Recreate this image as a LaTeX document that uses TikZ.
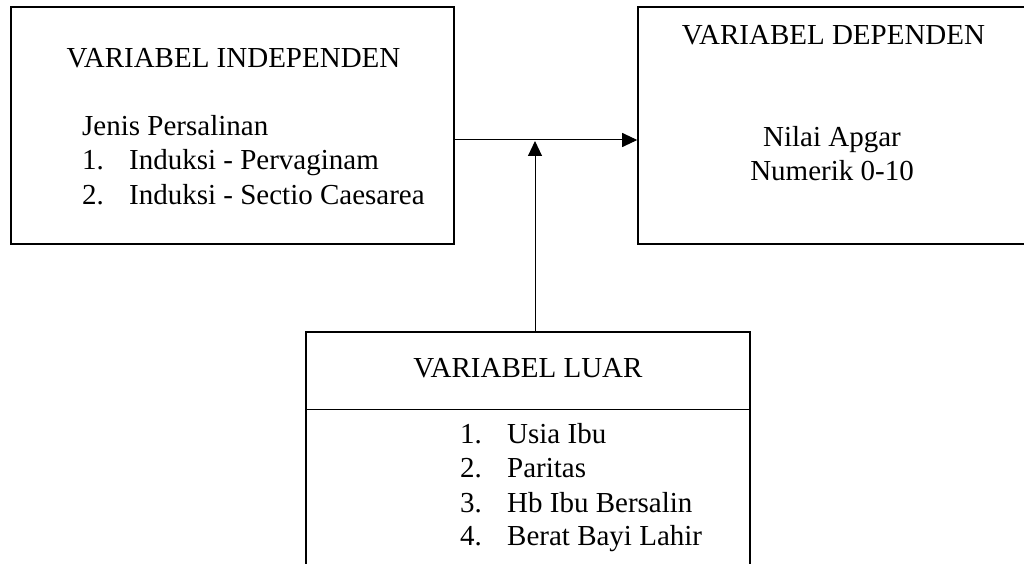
\documentclass[tikz,border=0pt]{standalone}
\usepackage{fontspec}
\setmainfont{Liberation Serif}
\usepackage{tikz}
\usetikzlibrary{arrows.meta}
\tikzstyle{box}=[rectangle,draw=black,line width=1.6pt,inner sep=0pt]
\tikzstyle{txt}=[inner sep=0pt,font=\fontsize{29}{34}\selectfont]
\tikzstyle{line}=[draw=black,line width=1pt]
\tikzstyle{arr}=[draw=black,line width=1pt,-{Triangle[length=15pt,width=14pt]}]
\tikzstyle{none}=[]
\newcommand{\nmr}[1]{\makebox[47pt][l]{#1}}

\begin{document}
\begin{tikzpicture}[x=1pt,y=-1pt]
            \useasboundingbox (0,0) rectangle (1024,564);
            \clip (0,0) rectangle (1024,564);
            \node [style=box,minimum width=443pt,minimum height=237pt] (0) at (232.5,125.5) {};
            \node [style=box,minimum width=400pt,minimum height=237pt] (1) at (838,125.5) {};
            \node [style=box,minimum width=444pt,minimum height=250pt] (2) at (528,457) {};
            \coordinate (3) at (306,409);
            \coordinate (4) at (750,409);
            \node [style=txt,anchor=base] (5) at (233.5,68) {VARIABEL INDEPENDEN};
            \node [style=txt,anchor=base west] (6) at (82,136) {Jenis Persalinan};
            \node [style=txt,anchor=base west] (7) at (82,170) {\nmr{1.}Induksi - Pervaginam};
            \node [style=txt,anchor=base west] (8) at (82,204) {\nmr{2.}Induksi - Sectio Caesarea};
            \node [style=txt,anchor=base] (9) at (833.5,45) {VARIABEL DEPENDEN};
            \node [style=txt,anchor=base] (10) at (832,147) {Nilai Apgar};
            \node [style=txt,anchor=base] (11) at (832,180) {Numerik 0-10};
            \node [style=txt,anchor=base] (12) at (528,377) {VARIABEL LUAR};
            \node [style=txt,anchor=base west] (13) at (460,443) {\nmr{1.}Usia Ibu};
            \node [style=txt,anchor=base west] (14) at (460,477) {\nmr{2.}Paritas};
            \node [style=txt,anchor=base west] (15) at (460,512) {\nmr{3.}Hb Ibu Bersalin};
            \node [style=txt,anchor=base west] (16) at (460,545) {\nmr{4.}Berat Bayi Lahir};
            \coordinate (17) at (454,140);
            \coordinate (18) at (535,332);
            \coordinate (19) at (535,141);
            \draw [style=line] (3) to (4);
            \draw [style=arr] (17) to (1.west |- 17);
            \draw [style=arr] (18) to (19);
    \end{tikzpicture}
\end{document}
